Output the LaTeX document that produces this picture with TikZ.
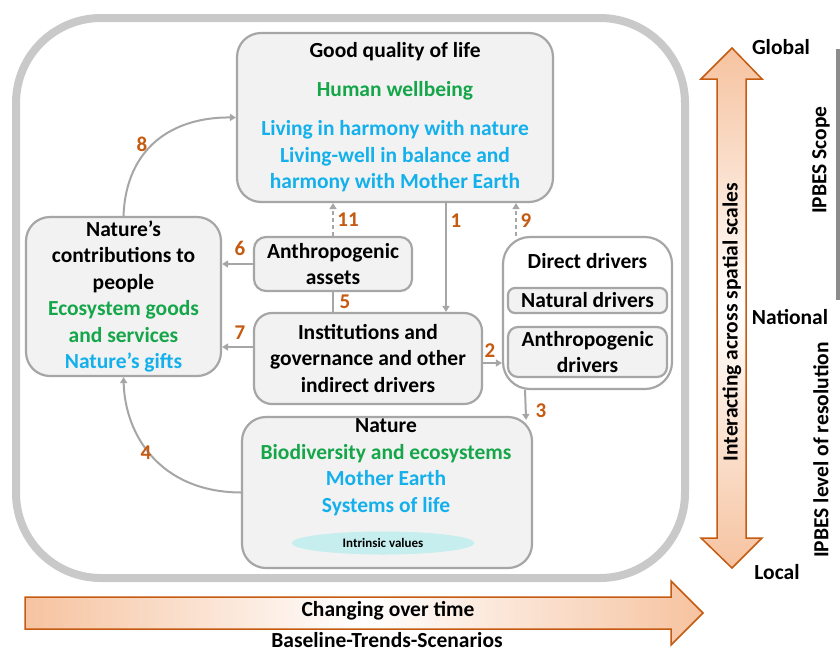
\documentclass[tikz,border=0pt]{standalone}
\usepackage{fontspec}
\setmainfont{Carlito}
\usetikzlibrary{arrows.meta,calc,shapes.geometric}
\definecolor{boxgray}{HTML}{A6A6A6}
\definecolor{boxfill}{HTML}{F2F2F2}
\definecolor{framegray}{HTML}{C9C9C9}
\definecolor{numcol}{HTML}{C55A11}
\definecolor{gr}{HTML}{16A64A}
\definecolor{bl}{HTML}{14B0EC}
\definecolor{peach}{HTML}{F6C3A0}
\definecolor{ell}{HTML}{C6EEEE}
\definecolor{barcol}{HTML}{8C8C8C}
\begin{document}
\begin{tikzpicture}[x=1pt,y=-1pt,
  box/.style={draw=boxgray,line width=2.2pt,fill=boxfill,inner sep=0pt,align=center,
    font=\bfseries\fontsize{21.5}{26.5}\selectfont},
  txt/.style={inner sep=0pt,align=center,font=\bfseries\fontsize{21.5}{26.5}\selectfont},
  num/.style={inner sep=0pt,text=numcol,font=\bfseries\fontsize{21}{24}\selectfont},
  conn/.style={draw=boxgray,line width=2pt,-{Triangle[length=6pt,width=7pt]}},
  plain/.style={draw=boxgray,line width=2pt},
  dashconn/.style={conn,dash pattern=on 4pt off 3pt},
  bigarrow/.style={draw=numcol,line width=1.5pt}]
\useasboundingbox (0,0) rectangle (840,654);
\fill[white] (0,0) rectangle (840,654);
% outer frame
\draw[framegray,line width=8pt,rounded corners=85pt] (16,18) rectangle (685,578);
% boxes
\node[box,rounded corners=24pt,minimum width=316pt,minimum height=169pt] (gq) at (395,117.5)
 {Good quality of life\\[12pt]\textcolor{gr}{Human wellbeing}\\[13pt]
  \textcolor{bl}{Living in harmony with nature}\\ \textcolor{bl}{Living-well in balance and}\\
  \textcolor{bl}{harmony with Mother Earth}};
\node[box,rounded corners=24pt,minimum width=195pt,minimum height=159pt] (ncp) at (123.5,296.5)
 {Nature’s\\ contributions to\\ people\\ \textcolor{gr}{Ecosystem goods}\\
  \textcolor{gr}{and services}\\ \textcolor{bl}{Nature’s gifts}};
\node[box,rounded corners=12pt,minimum width=158pt,minimum height=54pt] (anth) at (333,264)
 {Anthropogenic\\ assets};
\node[box,rounded corners=18pt,minimum width=228pt,minimum height=91pt] (inst) at (368,358.5)
 {Institutions and\\ governance and other\\ indirect drivers};
\node[box,fill=white,rounded corners=27pt,minimum width=169pt,minimum height=152pt] (dd) at (587.5,313) {};
\node[txt] (ddt) at (587.5,261) {Direct drivers};
\node[box,rounded corners=7pt,minimum width=159pt,minimum height=25pt] (natd) at (587.5,300.5) {Natural drivers};
\node[box,rounded corners=10pt,minimum width=159pt,minimum height=50pt] (antd) at (587.5,352) {Anthropogenic\\ drivers};
\node[box,rounded corners=24pt,minimum width=290pt,minimum height=151pt] (nat) at (387,492.5) {};
\node[txt] (natt) at (386,467)
 {Nature\\ \textcolor{gr}{Biodiversity and ecosystems}\\ \textcolor{bl}{Mother Earth}\\ \textcolor{bl}{Systems of life}};
\node[ellipse,fill=ell,inner sep=0pt,minimum width=183pt,minimum height=23pt,
  font=\bfseries\fontsize{13}{15}\selectfont] (iv) at (383,543) {Intrinsic values};
% helper coordinates
\coordinate (c1) at (446,0);
\coordinate (c9) at (516,0);
\coordinate (c7) at (0,347);
\coordinate (c2) at (0,363);
\coordinate (c3) at (525,0);
% connectors
\draw[conn] (gq.south -| c1) -- (inst.north -| c1);
\draw[conn] (inst.east |- c2) -- (dd.west |- c2);
\draw[conn] (dd.south -| c3) -- ($(nat.north east)+(-7,4)$);
\draw[conn] (nat.west) .. controls (160,492) and (125,435) .. (ncp.south);
\draw[plain] (anth.south) -- (inst.north -| anth.south);
\draw[conn] (anth.west) -- (ncp.east |- anth.west);
\draw[conn] (inst.west |- c7) -- (ncp.east |- c7);
\draw[conn] (ncp.north) .. controls (126,148) and (172,117) .. (gq.west);
\draw[dashconn] (dd.north -| c9) -- (gq.south -| c9);
\draw[dashconn] (anth.north) -- (gq.south -| anth.north);
% numbers
\node[num] (n8) at (142,144) {8};
\node[num] (n11) at (348,220) {11};
\node[num] (n1) at (456,221) {1};
\node[num] (n9) at (526,221) {9};
\node[num] (n6) at (240,248) {6};
\node[num] (n5) at (345,302) {5};
\node[num] (n7) at (240,333) {7};
\node[num] (n2) at (490,351) {2};
\node[num] (n3) at (541,411) {3};
\node[num] (n4) at (146,453) {4};
% vertical big arrow
\shade[top color=peach,bottom color=peach,middle color=white]
  (732,48) -- (762,79) -- (746,79) -- (746,538) -- (762,538) -- (732,568) -- (701,538) -- (717,538) -- (717,79) -- (701,79) -- cycle;
\draw[bigarrow] (732,48) -- (762,79) -- (746,79) -- (746,538) -- (762,538) -- (732,568) -- (701,538) -- (717,538) -- (717,79) -- (701,79) -- cycle;
\node[txt,rotate=90] (ias) at (732,322) {Interacting across spatial scales};
% horizontal big arrow
\shade[left color=peach,right color=peach,middle color=white]
  (25,597) -- (671,597) -- (671,581) -- (703,613) -- (671,645) -- (671,629) -- (25,629) -- cycle;
\draw[bigarrow] (25,597) -- (671,597) -- (671,581) -- (703,613) -- (671,645) -- (671,629) -- (25,629) -- cycle;
\node[txt] (cot) at (388,611) {Changing over time};
\node[txt,font=\bfseries\fontsize{21.5}{24}\selectfont] (bts) at (387,640.5) {Baseline-Trends-Scenarios};
% scale labels
\node[txt] (glob) at (781,47) {Global};
\node[txt] (natl) at (790,317) {National};
\node[txt] (loc) at (777,572) {Local};
\fill[barcol] (836,49) rectangle (840,300);
\node[txt,rotate=90] (scope) at (821,160) {IPBES Scope};
\node[txt,rotate=90] (res) at (821,450) {IPBES level of resolution};
\end{tikzpicture}
\end{document}
